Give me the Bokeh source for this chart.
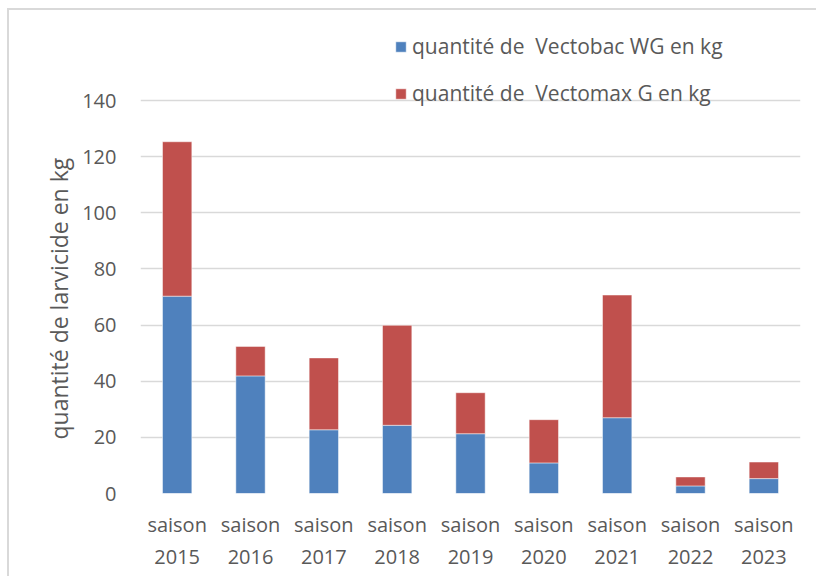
from bokeh.plotting import figure
from bokeh.models import (ColumnDataSource, Legend, LegendItem, Range1d, FixedTicker,
                          CategoricalAxis, CustomJSTickFormatter, Title)
from bokeh.embed import file_html
from bokeh.resources import INLINE

seasons = ["saison 2015", "saison 2016", "saison 2017", "saison 2018", "saison 2019",
           "saison 2020", "saison 2021", "saison 2022", "saison 2023"]
vectobac = [70.3, 41.9, 22.7, 24.3, 21.3, 10.9, 27.0, 2.7, 5.3]
vectomax = [55.0, 10.5, 25.6, 35.6, 14.6, 15.4, 43.7, 3.2, 5.9]
series = ["quantité de  Vectobac WG en kg", "quantité de  Vectomax G en kg"]
colors = ["#4F81BD", "#C0504D"]
y_ticks = [0, 20, 40, 60, 80, 100, 120, 140]
y_label = "quantité de larvicide en kg"

FONT = "Open Sans"
TXT = "#595959"

# layout: value 140 sits 393 px above 0; frame extended up to hold the legend
FRAME_H = 473
y_end = 140 * FRAME_H / 393

src = ColumnDataSource(dict(season=seasons, vectobac=vectobac, vectomax=vectomax))

BORDER_BG = ("linear-gradient(#d9d9d9, #d9d9d9) 7px 8px / 2px 100% no-repeat, "
             "linear-gradient(#d9d9d9, #d9d9d9) 7px 8px / 100% 2px no-repeat, #ffffff")

p = figure(x_range=seasons, y_range=Range1d(0, y_end), width=816, height=576,
           output_backend="svg", toolbar_location=None,
           min_border_left=140, min_border_right=16, min_border_top=20, min_border_bottom=83,
           styles={"background": BORDER_BG})
p.border_fill_alpha = 0
p.background_fill_color = "white"

r = p.vbar_stack(["vectobac", "vectomax"], x="season", width=0.4, source=src,
                 color=colors, line_color="white", line_width=0.8, line_alpha=0.6)

p.xgrid.grid_line_color = None
p.ygrid.grid_line_color = "#d9d9d9"
p.ygrid.grid_line_width = 1.5
p.yaxis.ticker = FixedTicker(ticks=y_ticks)
p.outline_line_color = None

year_axis = CategoricalAxis()
p.add_layout(year_axis, "below")

def style_axis(ax):
    ax.axis_line_color = None
    ax.major_tick_line_color = None
    ax.minor_tick_line_color = None
    ax.major_tick_out = 0
    ax.major_tick_in = 0
    ax.major_label_text_font = FONT
    ax.major_label_text_font_size = "20px"
    ax.major_label_text_color = TXT

style_axis(p.xaxis[0])
style_axis(p.yaxis[0])
style_axis(year_axis)

p.xaxis[0].formatter = CustomJSTickFormatter(code="return tick.split(' ')[0];")
p.xaxis[0].major_label_standoff = 17
year_axis.formatter = CustomJSTickFormatter(code="return tick.split(' ')[1];")
year_axis.major_label_standoff = 9
p.yaxis.major_label_standoff = 24

title = Title(text=y_label, align="left", offset=54, standoff=10,
              text_font=FONT, text_font_size="23px", text_font_style="normal",
              text_color=TXT)
p.add_layout(title, "left")

legend = Legend(items=[LegendItem(label=series[0], renderers=[r[0]]),
                       LegendItem(label=series[1], renderers=[r[1]])],
                location=(254, 386), orientation="vertical")
legend.border_line_color = None
legend.background_fill_alpha = 0
legend.padding = 0
legend.margin = 0
legend.spacing = 19
legend.glyph_width = 13
legend.glyph_height = 13
legend.label_height = 24
legend.label_standoff = 5
legend.label_text_font = FONT
legend.label_text_font_size = "21px"
legend.label_text_color = TXT
p.add_layout(legend, "center")

open("out.html", "w").write(file_html(p, INLINE))
